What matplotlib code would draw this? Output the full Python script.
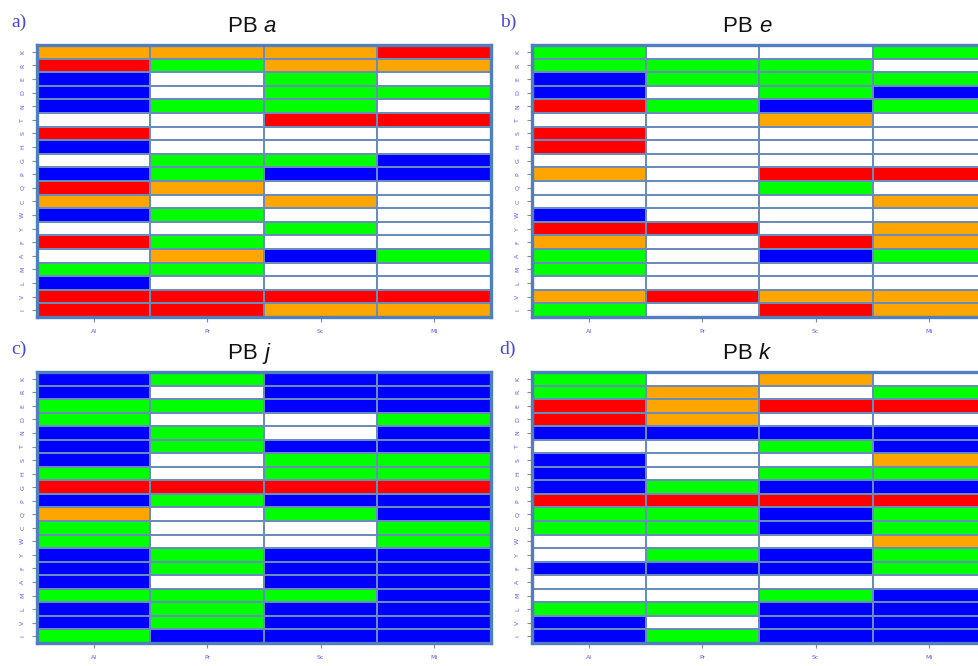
import matplotlib
matplotlib.use("Agg")
import matplotlib.pyplot as plt
from matplotlib.colors import ListedColormap
import numpy as np

residues = ["K", "R", "E", "D", "N", "T", "S", "H", "G", "P",
            "Q", "C", "W", "Y", "F", "A", "M", "L", "V", "I"]
organisms = ["Al", "Pr", "Sc", "Mi"]

# Category codes per cell: B=blue, G=green, W=white, O=orange, R=red
# each string = one residue row, characters = organisms (Al, Pr, Sc, Mi)
panel_a = ["OOOR", "RGOO", "BWGW", "BWGG", "BGGW", "WWRR", "RWWW", "BWWW",
           "WGGB", "BGBB", "ROWW", "OWOW", "BGWW", "WWGW", "RGWW", "WOBG",
           "GGWW", "BWWW", "RRRR", "RROO"]
panel_b = ["GWWG", "GGGW", "BGGG", "BWGB", "RGBG", "WWOW", "RWWW", "RWWW",
           "WWWW", "OWRR", "WWGW", "WWWO", "BWWW", "RRWO", "OWRO", "GWBG",
           "GWWW", "WWWW", "OROO", "GWRO"]
panel_c = ["BGBB", "BWBB", "GGBB", "GWWG", "BGWB", "BGBB", "BWGG", "GWGG",
           "RRRR", "BGBB", "OWGB", "GWWG", "GWWG", "BGBB", "BGBB", "BWBB",
           "GGGB", "BGBB", "BGBB", "GBBB"]
panel_d = ["GWOW", "GOWG", "RORR", "ROWW", "BBBB", "WWGB", "BWWO", "BWGG",
           "BGBB", "RRRR", "GGBG", "GGBG", "WWWO", "WGBG", "BBBG", "WWWW",
           "WWGB", "GGBB", "BWBB", "BGBB"]

titles = ["a", "e", "j", "k"]
letters = ["a)", "b)", "c)", "d)"]
panels = [panel_a, panel_b, panel_c, panel_d]

code_order = "BGWOR"
cmap = ListedColormap(["#0000ff", "#00ff00", "#ffffff", "#ffa500", "#ff0000"])

W, H = 979, 666
fig = plt.figure(figsize=(W / 100, H / 100), dpi=100)

# axes boxes in pixels: (left, top, width, height)
boxes = [(37, 45, 454, 272), (532, 45, 454, 272),
         (37, 372, 454, 271), (532, 372, 454, 271)]
letter_pos = [(19, 22), (508, 22), (19, 349), (508, 349)]

for idx, (panel, box) in enumerate(zip(panels, boxes)):
    l, t, w, h = box
    ax = fig.add_axes([l / W, 1 - (t + h) / H, w / W, h / H])
    mat = np.array([[code_order.index(c) for c in row] for row in panel])
    ax.pcolormesh(np.arange(len(organisms) + 1), np.arange(len(residues) + 1), mat,
                  cmap=cmap, vmin=-0.5, vmax=4.5,
                  edgecolors="#6a8cbc", linewidth=1.1)
    ax.set_xlim(0, len(organisms))
    ax.set_ylim(len(residues), 0)
    ax.set_xticks(np.arange(len(organisms)) + 0.5)
    ax.set_xticklabels(organisms)
    ax.set_yticks(np.arange(len(residues)) + 0.5)
    ax.set_yticklabels(residues, rotation=90, va="center")
    ax.tick_params(axis="both", labelsize=4.5, labelcolor="#5a5aff",
                   color="#888888", length=3.5, width=0.8, pad=5)
    for s in ax.spines.values():
        s.set_color("#4f7fbf")
        s.set_linewidth(2.4)
    ax.text(0.5, 1 + 13 / h, "PB ", transform=ax.transAxes,
            ha="right", va="baseline", fontsize=16, family="Liberation Sans",
            color="#111111")
    ax.text(0.5, 1 + 13 / h, titles[idx], transform=ax.transAxes,
            ha="left", va="baseline", fontsize=16, family="Liberation Sans",
            style="italic", color="#111111")
    lx, ly = letter_pos[idx]
    fig.text(lx / W, 1 - ly / H, letters[idx], ha="center", va="center",
             fontsize=14, family="Liberation Serif", color="#4848d8")

fig.savefig("out.png", dpi=100)
